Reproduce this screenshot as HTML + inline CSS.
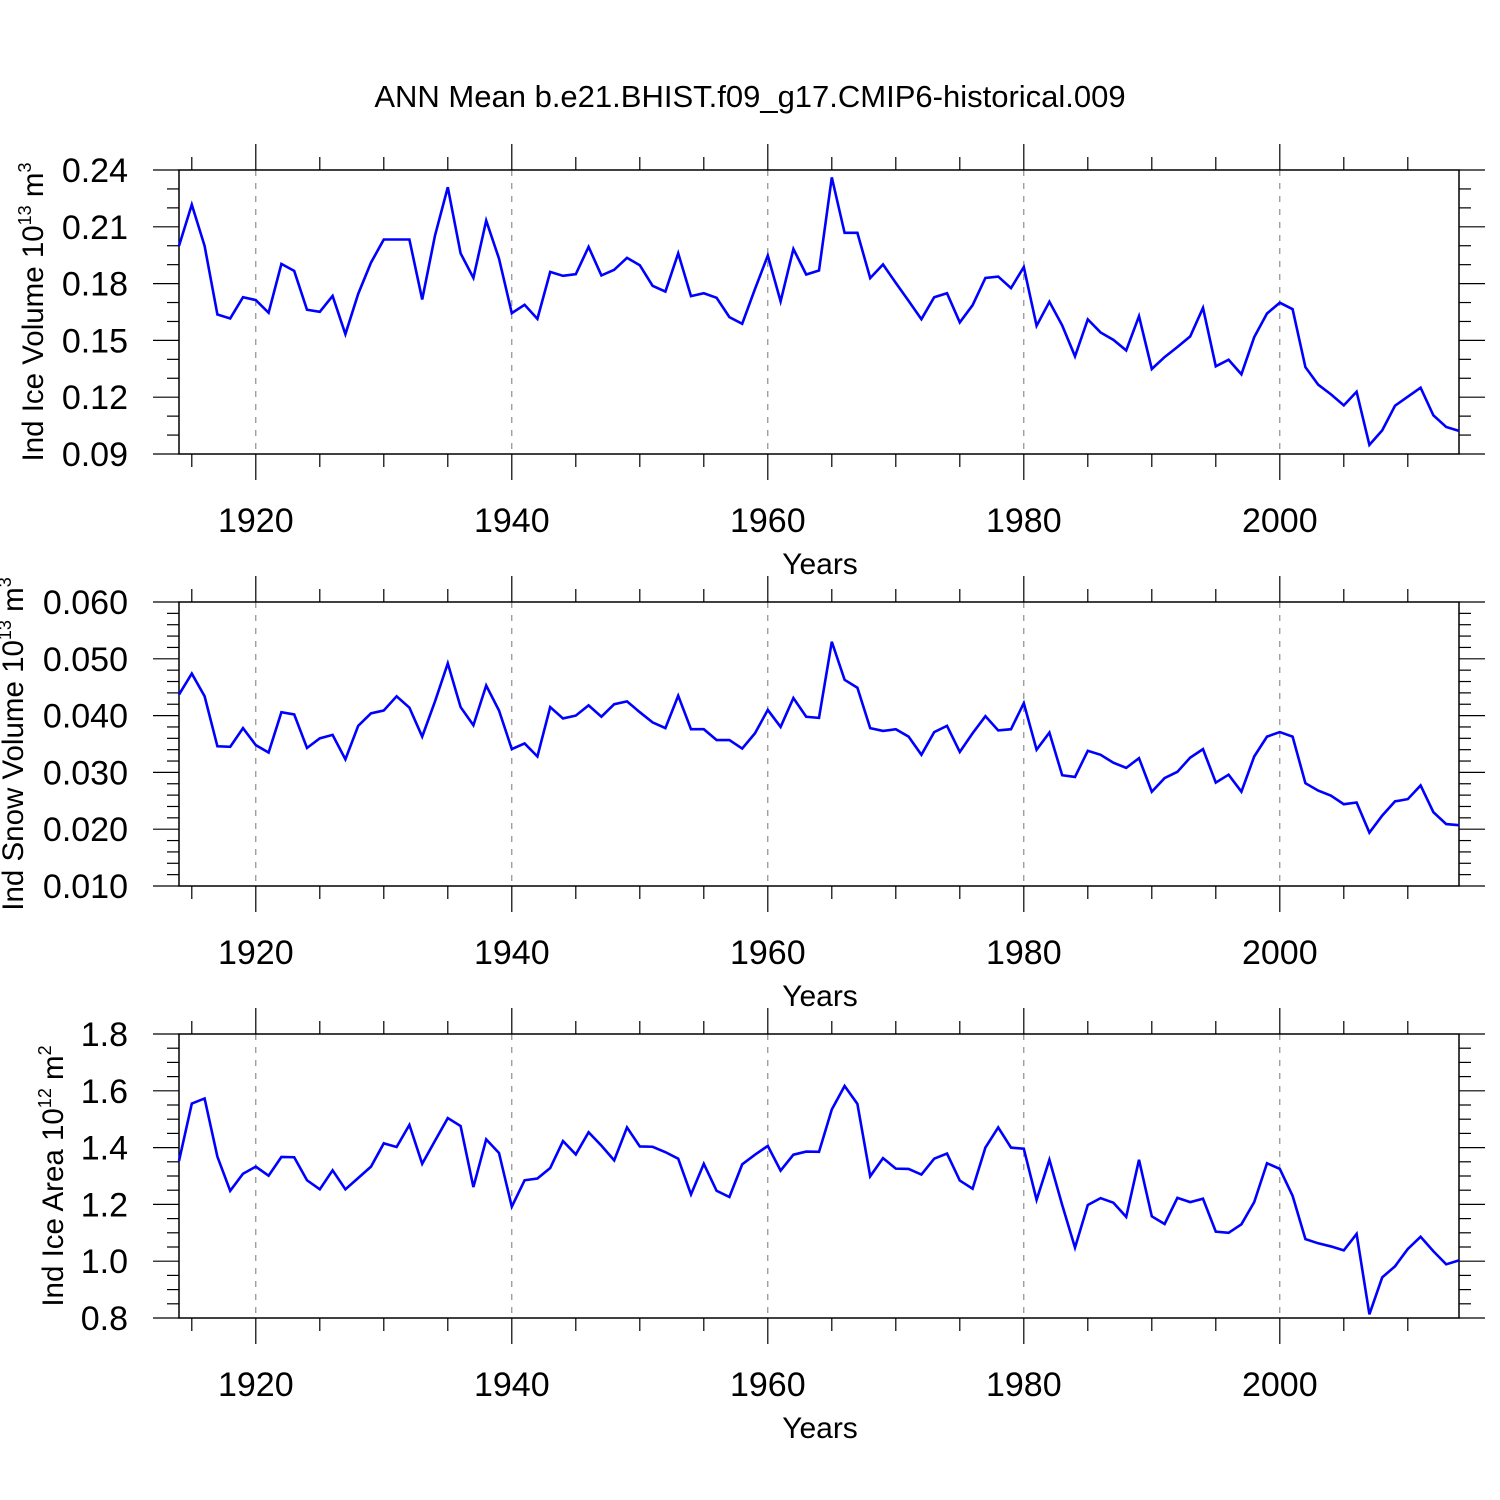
<!DOCTYPE html>
<html><head><meta charset="utf-8"><style>
html,body{margin:0;padding:0;background:#fff;}
svg{display:block;font-family:"Liberation Sans",Arial,sans-serif;}
</style></head><body>
<svg id="chart" width="1500" height="1500" viewBox="0 0 1500 1500" xmlns="http://www.w3.org/2000/svg">
<rect width="1500" height="1500" fill="#fff"/>
<text x="750" y="107" font-size="31" text-anchor="middle">ANN Mean b.e21.BHIST.f09_g17.CMIP6-historical.009</text>
</svg>
<script>
const years = [];
for (let y = 1914; y <= 2014; y++) years.push(y);
const xTickLabels = ["1920","1940","1960","1980","2000"];

const iceVolume = [0.1999,0.2217,0.1999,0.1637,0.1616,0.1728,0.1713,0.1646,0.1904,0.1867,
0.1662,0.1651,0.1735,0.1533,0.1746,0.1911,0.2033,0.2033,0.2033,0.1716,
0.2054,0.2309,0.1960,0.1830,0.2133,0.1932,0.1644,0.1688,0.1614,0.1862,
0.1841,0.1850,0.1994,0.1843,0.1873,0.1936,0.1897,0.1788,0.1758,0.1960,
0.1734,0.1749,0.1725,0.1623,0.1588,0.1772,0.1948,0.1706,0.1983,0.1848,
0.1869,0.2361,0.2068,0.2068,0.1829,0.1901,0.1804,0.1709,0.1612,0.1728,
0.1749,0.1595,0.1686,0.1830,0.1837,0.1776,0.1887,0.1577,0.1704,0.1579,
0.1416,0.1611,0.1542,0.1503,0.1447,0.1628,0.1349,0.1412,0.1465,0.1521,
0.1672,0.1363,0.1398,0.1321,0.1517,0.1642,0.1699,0.1665,0.1359,0.1266,
0.1215,0.1157,0.1229,0.0948,0.1025,0.1155,0.1203,0.1250,0.1104,0.1043,0.1022];
const iceVolumeTicks = ["0.24","0.21","0.18","0.15","0.12","0.09"];

const snowVolume = [0.0437,0.0474,0.0434,0.0346,0.0345,0.0378,0.0348,0.0335,0.0406,0.0402,
0.0343,0.0360,0.0366,0.0323,0.0382,0.0404,0.0409,0.0434,0.0414,0.0363,
0.0425,0.0492,0.0415,0.0383,0.0453,0.0409,0.0341,0.0351,0.0328,0.0415,
0.0395,0.0400,0.0418,0.0398,0.0420,0.0425,0.0406,0.0388,0.0378,0.0435,
0.0376,0.0376,0.0357,0.0357,0.0342,0.0369,0.0410,0.0380,0.0431,0.0398,
0.0396,0.0530,0.0463,0.0449,0.0378,0.0373,0.0376,0.0363,0.0331,0.0371,
0.0382,0.0336,0.0369,0.0399,0.0374,0.0376,0.0422,0.0340,0.0370,0.0295,
0.0292,0.0338,0.0331,0.0317,0.0308,0.0325,0.0266,0.0290,0.0301,0.0326,
0.0341,0.0282,0.0296,0.0266,0.0328,0.0363,0.0371,0.0363,0.0281,0.0268,
0.0259,0.0244,0.0247,0.0194,0.0224,0.0249,0.0253,0.0277,0.0230,0.0209,0.0207];
const snowVolumeTicks = ["0.060","0.050","0.040","0.030","0.020","0.010"];

const iceArea = [1.353,1.555,1.573,1.368,1.248,1.308,1.333,1.301,1.367,1.366,
1.285,1.253,1.320,1.253,1.293,1.333,1.415,1.402,1.480,1.343,
1.424,1.504,1.476,1.261,1.429,1.381,1.192,1.285,1.291,1.328,
1.423,1.376,1.454,1.407,1.355,1.471,1.404,1.403,1.384,1.361,
1.235,1.343,1.248,1.226,1.341,1.375,1.406,1.319,1.375,1.386,
1.385,1.534,1.617,1.554,1.299,1.363,1.326,1.325,1.305,1.361,
1.379,1.284,1.255,1.400,1.471,1.400,1.396,1.216,1.357,1.198,
1.048,1.198,1.222,1.206,1.156,1.357,1.158,1.131,1.223,1.208,
1.220,1.104,1.100,1.130,1.208,1.345,1.325,1.230,1.078,1.063,
1.052,1.038,1.096,0.813,0.943,0.982,1.043,1.086,1.035,0.989,1.003];
const iceAreaTicks = ["1.8","1.6","1.4","1.2","1.0","0.8"];

const NS = "http://www.w3.org/2000/svg";
const svg = document.getElementById("chart");
function mk(tag, attrs, parent) {
  const e = document.createElementNS(NS, tag);
  for (const k in attrs) e.setAttribute(k, attrs[k]);
  (parent || svg).appendChild(e);
  return e;
}
const X0 = 179, X1 = 1459, XMIN = 1914, XMAX = 2014;
function xScale(yr) { return X0 + (yr - XMIN) / (XMAX - XMIN) * (X1 - X0); }

const panels = [
  {name:"ice-volume", top:170, data:iceVolume, ticks:iceVolumeTicks, ymin:0.09, ymax:0.24, minor:0.01,
   label:"Ind Ice Volume 10", exp:"13", unit:" m", uexp:"3", lx:43},
  {name:"snow-volume", top:602, data:snowVolume, ticks:snowVolumeTicks, ymin:0.010, ymax:0.060, minor:0.002,
   label:"Ind Snow Volume 10", exp:"13", unit:" m", uexp:"3", lx:23},
  {name:"ice-area", top:1034, data:iceArea, ticks:iceAreaTicks, ymin:0.8, ymax:1.8, minor:0.05,
   label:"Ind Ice Area 10", exp:"12", unit:" m", uexp:"2", lx:63}
];

panels.forEach(p => {
  const H = 284, top = p.top, bot = top + H;
  const g = mk("g", {});
  
  
  const yScale = v => bot - (v - p.ymin) / (p.ymax - p.ymin) * H;
  xTickLabels.forEach(t => {
    const x = xScale(+t);
    const l = mk("line", {x1:x, x2:x, y1:top, y2:bot, stroke:"#777", "stroke-width":1, "stroke-dasharray":"6,7"}, g);
    
    
  });
  for (let yr = 1915; yr <= 2010; yr += 5) {
    const x = xScale(yr);
    const major = yr % 20 === 0;
    const len = major ? 26 : 13;
    mk("line", {x1:x, x2:x, y1:top, y2:top - len, stroke:"#000", "stroke-width":1.2}, g);
    mk("line", {x1:x, x2:x, y1:bot, y2:bot + len, stroke:"#000", "stroke-width":1.2}, g);
  }
  const nMinor = Math.round((p.ymax - p.ymin) / p.minor);
  const majorEvery = Math.round(((p.ymax - p.ymin) / 5) / p.minor);
  for (let i = 0; i <= nMinor; i++) {
    const y = yScale(p.ymin + i * p.minor);
    const major = i % majorEvery === 0;
    const len = major ? 26 : 12;
    mk("line", {x1:X0, x2:X0 - len, y1:y, y2:y, stroke:"#000", "stroke-width":1.2}, g);
    mk("line", {x1:X1, x2:X1 + len, y1:y, y2:y, stroke:"#000", "stroke-width":1.2}, g);
  }
  const fr = mk("rect", {x:X0, y:top, width:X1 - X0, height:H, fill:"none", stroke:"#000", "stroke-width":1.5}, g);
  
  
  p.ticks.forEach((t, i) => {
    const v = p.ymax - i * (p.ymax - p.ymin) / 5;
    const tx = mk("text", {x:128, y:yScale(v) + 12, "font-size":34, "text-anchor":"end"}, g);
    tx.textContent = t;
    
    
  });
  xTickLabels.forEach(t => {
    const tx = mk("text", {x:xScale(+t), y:bot + 78, "font-size":34, "text-anchor":"middle"}, g);
    tx.textContent = t;
    
    
  });
  const xt = mk("text", {x:820, y:bot + 120, "font-size":30, "text-anchor":"middle"}, g);
  xt.textContent = "Years";
  
  
  const yt = mk("text", {x:0, y:0, "font-size":29.5, "text-anchor":"middle",
    transform:"translate(" + p.lx + "," + (top + H / 2) + ") rotate(-90)"}, g);
  
  
  const s1 = mk("tspan", {}, yt); s1.textContent = p.label;
  const s2 = mk("tspan", {"font-size":18, dy:-12}, yt); s2.textContent = p.exp;
  const s3 = mk("tspan", {dy:12}, yt); s3.textContent = p.unit;
  const s4 = mk("tspan", {"font-size":18, dy:-12}, yt); s4.textContent = p.uexp;
  const pts = p.data.map((v, i) => xScale(years[i]).toFixed(2) + "," + yScale(v).toFixed(2)).join(" ");
  const pl = mk("polyline", {points:pts, fill:"none", stroke:"#0000ff", "stroke-width":2.6, "stroke-linejoin":"miter"}, g);
  
  
});
</script>
</body></html>
